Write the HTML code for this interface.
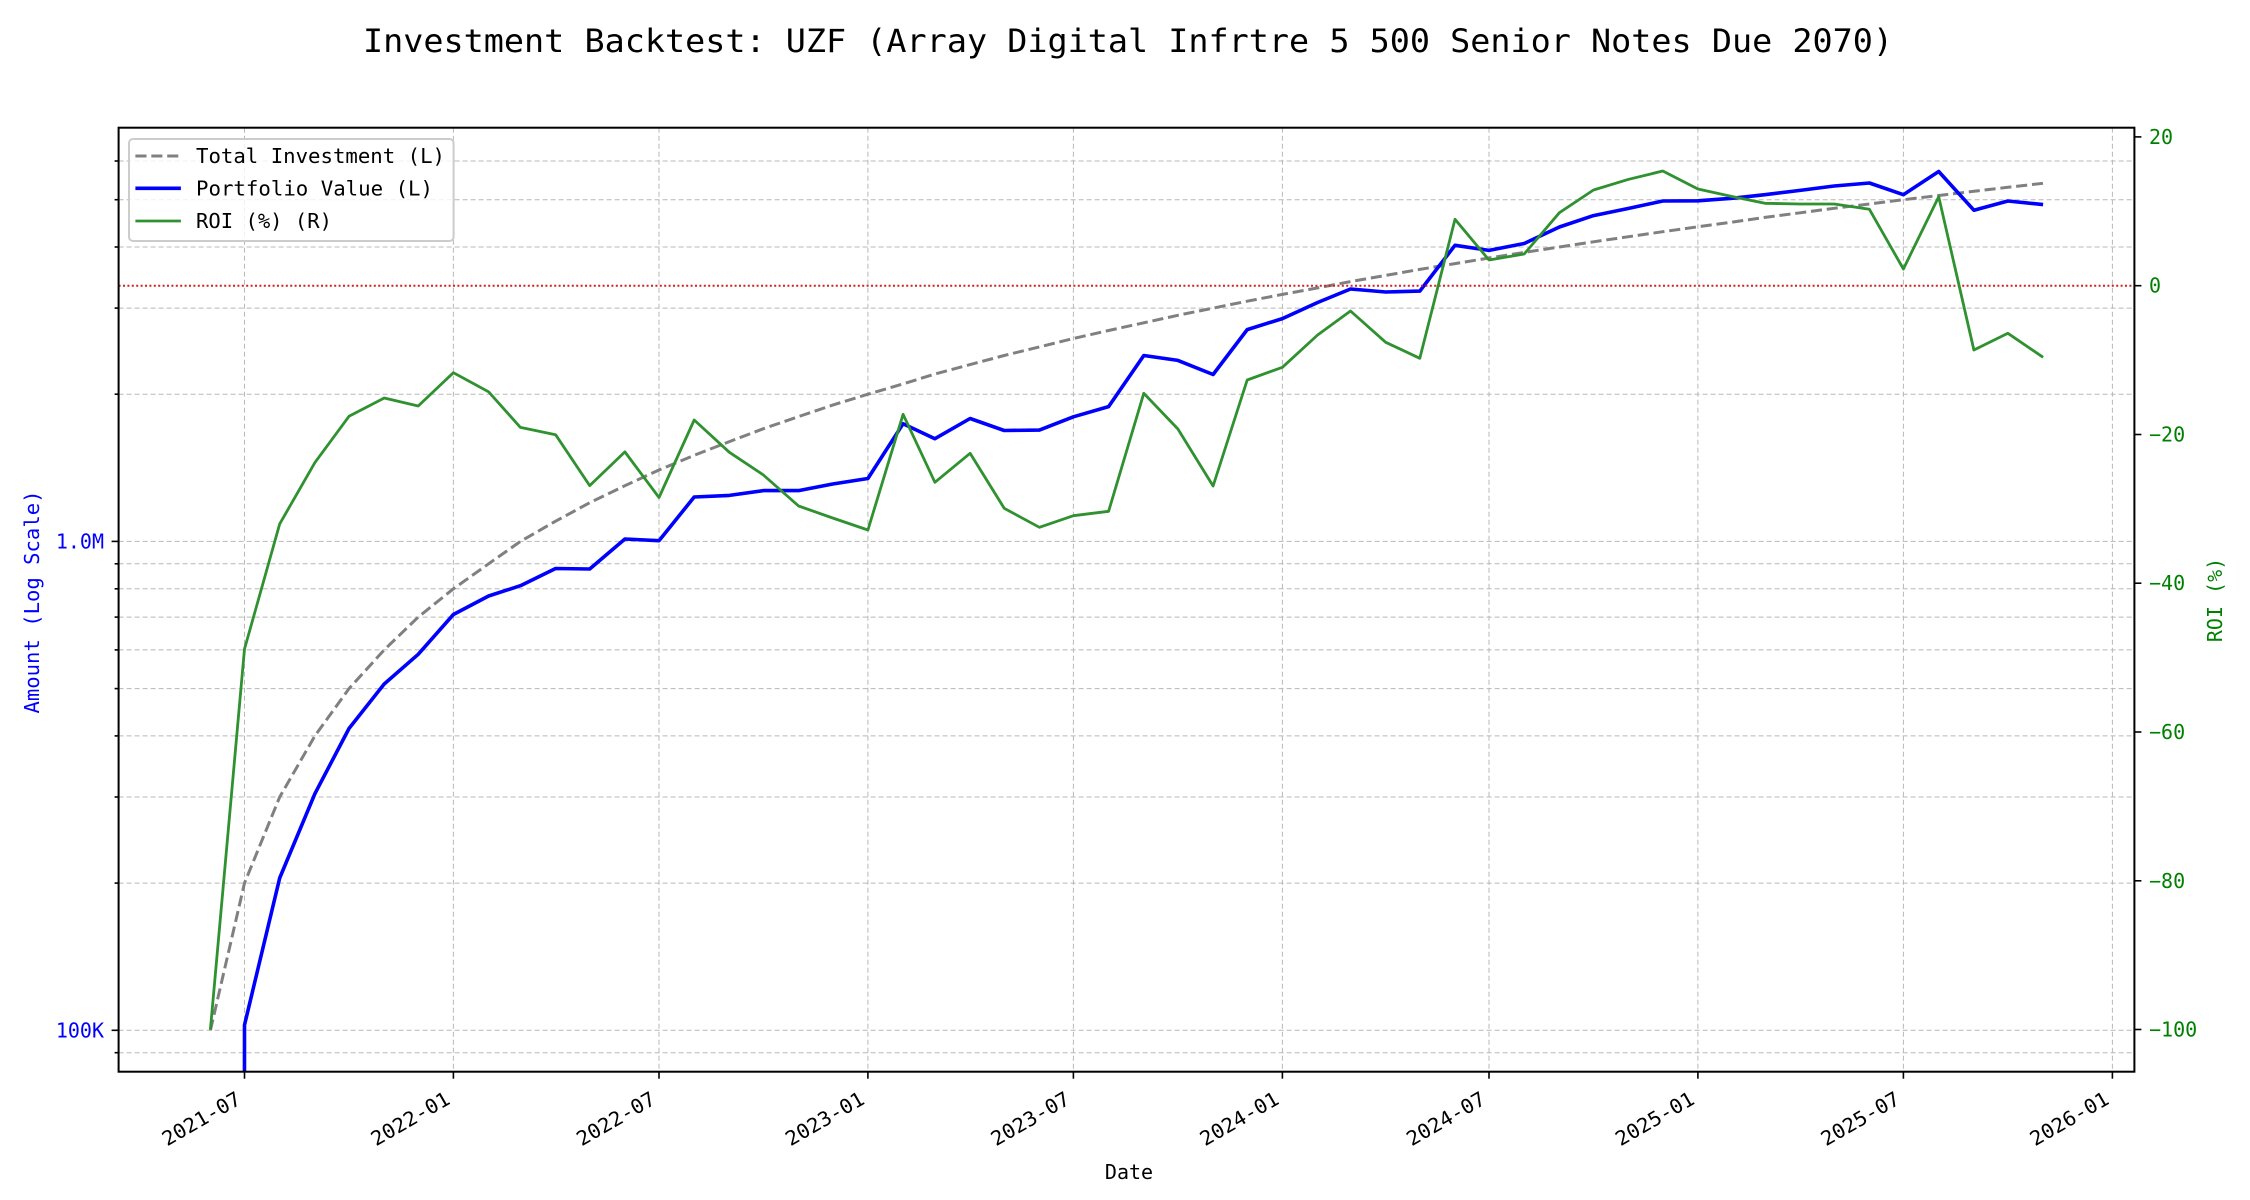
<!DOCTYPE html>
<html><head><meta charset="utf-8"><style>
html,body{margin:0;padding:0;background:#fff;}
svg{display:block;}
text{font-family:"DejaVu Sans Mono","Liberation Mono",monospace;}
</style></head><body>
<svg width="2250" height="1200" viewBox="0 0 2250 1200" xmlns="http://www.w3.org/2000/svg">
<rect width="2250" height="1200" fill="#fff"/>
<defs><clipPath id="ax"><rect x="118.6" y="127.7" width="2015.8" height="944"/></clipPath></defs>

<text x="363" y="52" font-size="32" textLength="1530" lengthAdjust="spacingAndGlyphs" fill="#000">Investment Backtest: UZF (Array Digital Infrtre 5 500 Senior Notes Due 2070)</text>

<g stroke="#b8b8b8" stroke-width="1" stroke-dasharray="5,3" fill="none">
<line x1="118.6" x2="2134.4" y1="1052.7" y2="1052.7"/>
<line x1="118.6" x2="2134.4" y1="1030.3" y2="1030.3"/>
<line x1="118.6" x2="2134.4" y1="883.1" y2="883.1"/>
<line x1="118.6" x2="2134.4" y1="797.0" y2="797.0"/>
<line x1="118.6" x2="2134.4" y1="735.9" y2="735.9"/>
<line x1="118.6" x2="2134.4" y1="688.6" y2="688.6"/>
<line x1="118.6" x2="2134.4" y1="649.9" y2="649.9"/>
<line x1="118.6" x2="2134.4" y1="617.1" y2="617.1"/>
<line x1="118.6" x2="2134.4" y1="588.8" y2="588.8"/>
<line x1="118.6" x2="2134.4" y1="563.8" y2="563.8"/>
<line x1="118.6" x2="2134.4" y1="541.4" y2="541.4"/>
<line x1="118.6" x2="2134.4" y1="394.2" y2="394.2"/>
<line x1="118.6" x2="2134.4" y1="308.1" y2="308.1"/>
<line x1="118.6" x2="2134.4" y1="247.0" y2="247.0"/>
<line x1="118.6" x2="2134.4" y1="199.7" y2="199.7"/>
<line x1="118.6" x2="2134.4" y1="161.0" y2="161.0"/>
<line y1="127.7" y2="1071.7" x1="244.5" x2="244.5"/>
<line y1="127.7" y2="1071.7" x1="453.4" x2="453.4"/>
<line y1="127.7" y2="1071.7" x1="659.0" x2="659.0"/>
<line y1="127.7" y2="1071.7" x1="867.9" x2="867.9"/>
<line y1="127.7" y2="1071.7" x1="1073.4" x2="1073.4"/>
<line y1="127.7" y2="1071.7" x1="1282.4" x2="1282.4"/>
<line y1="127.7" y2="1071.7" x1="1489.0" x2="1489.0"/>
<line y1="127.7" y2="1071.7" x1="1697.9" x2="1697.9"/>
<line y1="127.7" y2="1071.7" x1="1903.4" x2="1903.4"/>
<line y1="127.7" y2="1071.7" x1="2112.4" x2="2112.4"/>
</g>

<g clip-path="url(#ax)" fill="none" stroke-linejoin="round">
<polyline stroke="#808080" stroke-width="3" stroke-dasharray="11.1,4.8" points="210.4,1030.3 244.5,883.1 279.7,797.0 314.9,735.9 349.0,688.6 384.2,649.9 418.2,617.1 453.4,588.8 488.6,563.8 520.4,541.4 555.6,521.2 589.7,502.7 624.9,485.7 659.0,470.0 694.2,455.3 729.4,441.6 763.4,428.7 798.6,416.6 832.7,405.1 867.9,394.2 903.1,383.9 934.9,374.0 970.1,364.6 1004.2,355.5 1039.4,346.9 1073.4,338.5 1108.6,330.5 1143.8,322.8 1177.9,315.3 1213.1,308.1 1247.2,301.2 1282.4,294.4 1317.6,287.9 1350.5,281.6 1385.7,275.4 1419.8,269.4 1455.0,263.6 1489.0,258.0 1524.2,252.4 1559.4,247.0 1593.5,241.8 1628.7,236.7 1662.8,231.7 1697.9,226.8 1733.1,222.0 1764.9,217.4 1800.1,212.8 1834.2,208.3 1869.4,204.0 1903.4,199.7 1938.7,195.5 1973.9,191.3 2007.9,187.3 2043.1,183.3"/>
<polyline stroke="#0000ff" stroke-width="3.6" points="244.4,1200 244.5,1025 279.7,878 314.9,793.7 349.0,728.5 384.2,684 418.2,654.3 453.4,614.5 488.6,596 520.4,585.7 555.6,568.5 589.7,569 624.9,539 659.0,540.7 694.2,497 729.4,495.4 763.4,490.6 798.6,490.6 832.7,484 867.9,478.5 903.1,423.7 934.9,438.7 970.1,418.5 1004.2,430.5 1039.4,430.1 1073.4,416.8 1108.6,406.6 1143.8,355.5 1177.9,360.4 1213.1,374.5 1247.2,329.6 1282.4,318.6 1317.6,302.5 1350.5,289 1385.7,292 1419.8,291.1 1455.0,245.3 1489.0,250.4 1524.2,243.5 1559.4,227 1593.5,215.6 1628.7,208.4 1662.8,201 1697.9,200.8 1733.1,198.2 1764.9,194.7 1800.1,190.4 1834.2,186 1869.4,183 1903.4,194.7 1938.7,171.5 1973.9,210.2 2007.9,201 2043.1,204.6"/>
<line x1="118.6" x2="2134.4" y1="285.7" y2="285.7" stroke="#d42020" stroke-width="2" stroke-dasharray="2,2.4"/>
<polyline stroke="#2f912f" stroke-width="2.8" points="210.4,1029.5 244.5,649.0 279.7,523.9 314.9,462.6 349.0,416.3 384.2,398.0 418.2,406.0 453.4,372.7 488.6,391.8 520.4,427.4 555.6,434.7 589.7,485.6 624.9,451.9 659.0,497.5 694.2,420 729.4,452.3 763.4,475 798.6,506 832.7,518 867.9,530 903.1,414.3 934.9,482.3 970.1,453.3 1004.2,508.3 1039.4,527.3 1073.4,515.7 1108.6,511.3 1143.8,393.3 1177.9,429 1213.1,486 1247.2,380 1282.4,367.3 1317.6,335 1350.5,311 1385.7,342.3 1419.8,358.3 1455.0,219.3 1489.0,260 1524.2,254 1559.4,212.7 1593.5,190 1628.7,179.3 1662.8,171 1697.9,189 1733.1,196.7 1764.9,203.3 1800.1,204 1834.2,204 1869.4,209.3 1903.4,269 1938.7,196.7 1973.9,350 2007.9,333.3 2043.1,357.3"/>
</g>

<!-- spines -->
<rect x="118.6" y="127.7" width="2015.8" height="944" fill="none" stroke="#000" stroke-width="2"/>

<!-- left ticks -->
<g stroke="#000" stroke-width="1.6">
<line x1="111.6" x2="118.6" y1="541.4" y2="541.4"/>
<line x1="111.6" x2="118.6" y1="1030.3" y2="1030.3"/>
<line x1="114.6" x2="118.6" y1="1052.7" y2="1052.7"/>
<line x1="114.6" x2="118.6" y1="883.1" y2="883.1"/>
<line x1="114.6" x2="118.6" y1="797.0" y2="797.0"/>
<line x1="114.6" x2="118.6" y1="735.9" y2="735.9"/>
<line x1="114.6" x2="118.6" y1="688.6" y2="688.6"/>
<line x1="114.6" x2="118.6" y1="649.9" y2="649.9"/>
<line x1="114.6" x2="118.6" y1="617.1" y2="617.1"/>
<line x1="114.6" x2="118.6" y1="588.8" y2="588.8"/>
<line x1="114.6" x2="118.6" y1="563.8" y2="563.8"/>
<line x1="114.6" x2="118.6" y1="394.2" y2="394.2"/>
<line x1="114.6" x2="118.6" y1="308.1" y2="308.1"/>
<line x1="114.6" x2="118.6" y1="247.0" y2="247.0"/>
<line x1="114.6" x2="118.6" y1="199.7" y2="199.7"/>
<line x1="114.6" x2="118.6" y1="161.0" y2="161.0"/>
<!-- right ticks -->
<line x1="2134.4" x2="2141.4" y1="136.9" y2="136.9"/>
<line x1="2134.4" x2="2141.4" y1="285.7" y2="285.7"/>
<line x1="2134.4" x2="2141.4" y1="434.5" y2="434.5"/>
<line x1="2134.4" x2="2141.4" y1="583.2" y2="583.2"/>
<line x1="2134.4" x2="2141.4" y1="732.0" y2="732.0"/>
<line x1="2134.4" x2="2141.4" y1="880.8" y2="880.8"/>
<line x1="2134.4" x2="2141.4" y1="1029.5" y2="1029.5"/>
<!-- bottom ticks -->
<line y1="1071.7" y2="1078.7" x1="244.5" x2="244.5"/>
<line y1="1071.7" y2="1078.7" x1="453.4" x2="453.4"/>
<line y1="1071.7" y2="1078.7" x1="659.0" x2="659.0"/>
<line y1="1071.7" y2="1078.7" x1="867.9" x2="867.9"/>
<line y1="1071.7" y2="1078.7" x1="1073.4" x2="1073.4"/>
<line y1="1071.7" y2="1078.7" x1="1282.4" x2="1282.4"/>
<line y1="1071.7" y2="1078.7" x1="1489.0" x2="1489.0"/>
<line y1="1071.7" y2="1078.7" x1="1697.9" x2="1697.9"/>
<line y1="1071.7" y2="1078.7" x1="1903.4" x2="1903.4"/>
<line y1="1071.7" y2="1078.7" x1="2112.4" x2="2112.4"/>
</g>

<!-- left tick labels -->
<g fill="#0000ff" font-size="20" text-anchor="end">
<text x="104" y="548.4">1.0M</text>
<text x="104" y="1037.3">100K</text>
</g>
<text transform="translate(39,602) rotate(-90)" text-anchor="middle" font-size="20" fill="#0000ff" textLength="223" lengthAdjust="spacingAndGlyphs">Amount (Log Scale)</text>

<!-- right tick labels -->
<g fill="#008000" font-size="20">
<text x="2149" y="143.9">20</text>
<text x="2149" y="292.7">0</text>
<text x="2149" y="441.5">−20</text>
<text x="2149" y="590.2">−40</text>
<text x="2149" y="739.0">−60</text>
<text x="2149" y="887.8">−80</text>
<text x="2149" y="1036.5">−100</text>
</g>
<text transform="translate(2222,600) rotate(-90)" text-anchor="middle" font-size="20" fill="#008000">ROI (%)</text>

<!-- x tick labels -->
<g font-size="20" fill="#000" text-anchor="end">
<text transform="translate(242.5,1103) rotate(-30)" textLength="87" lengthAdjust="spacingAndGlyphs">2021-07</text>
<text transform="translate(451.4,1103) rotate(-30)" textLength="87" lengthAdjust="spacingAndGlyphs">2022-01</text>
<text transform="translate(657.0,1103) rotate(-30)" textLength="87" lengthAdjust="spacingAndGlyphs">2022-07</text>
<text transform="translate(865.9,1103) rotate(-30)" textLength="87" lengthAdjust="spacingAndGlyphs">2023-01</text>
<text transform="translate(1071.4,1103) rotate(-30)" textLength="87" lengthAdjust="spacingAndGlyphs">2023-07</text>
<text transform="translate(1280.4,1103) rotate(-30)" textLength="87" lengthAdjust="spacingAndGlyphs">2024-01</text>
<text transform="translate(1487.0,1103) rotate(-30)" textLength="87" lengthAdjust="spacingAndGlyphs">2024-07</text>
<text transform="translate(1695.9,1103) rotate(-30)" textLength="87" lengthAdjust="spacingAndGlyphs">2025-01</text>
<text transform="translate(1901.4,1103) rotate(-30)" textLength="87" lengthAdjust="spacingAndGlyphs">2025-07</text>
<text transform="translate(2110.4,1103) rotate(-30)" textLength="87" lengthAdjust="spacingAndGlyphs">2026-01</text>
</g>
<text x="1129" y="1179" text-anchor="middle" font-size="20" fill="#000">Date</text>

<!-- legend -->
<rect x="129" y="139" width="324.6" height="102" rx="4" ry="4" fill="#fff" fill-opacity="0.8" stroke="#cccccc" stroke-width="2"/>
<line x1="135.4" x2="180.9" y1="156" y2="156" stroke="#808080" stroke-width="3" stroke-dasharray="11.1,4.8"/>
<line x1="135.4" x2="180.9" y1="188.3" y2="188.3" stroke="#0000ff" stroke-width="3.6"/>
<line x1="135.4" x2="180.9" y1="221" y2="221" stroke="#2f912f" stroke-width="2.8"/>
<g font-size="20" fill="#000">
<text x="196" y="163" textLength="249" lengthAdjust="spacingAndGlyphs">Total Investment (L)</text>
<text x="196" y="195.3" textLength="237" lengthAdjust="spacingAndGlyphs">Portfolio Value (L)</text>
<text x="196" y="228" textLength="136" lengthAdjust="spacingAndGlyphs">ROI (%) (R)</text>
</g>
</svg>
</body></html>
